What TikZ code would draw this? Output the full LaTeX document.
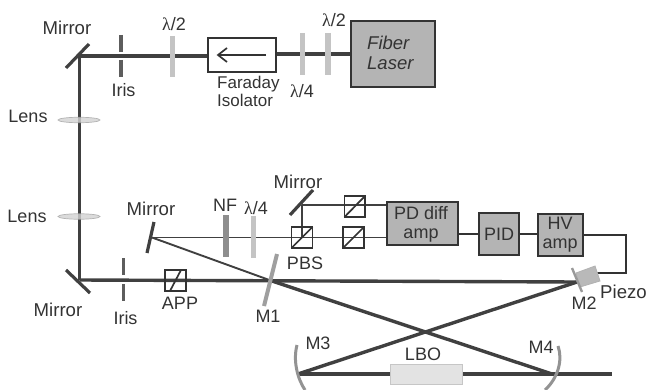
\documentclass[tikz,border=0pt]{standalone}
\usepackage{fontspec}
\usetikzlibrary{shapes.geometric}
\setmainfont{Liberation Sans}
\newfontfamily\lamfont{Liberation Serif}
\newcommand{\lam}[1]{{\lamfont λ}/#1}
\definecolor{ink}{HTML}{333333}
\definecolor{beamc}{HTML}{404040}
\definecolor{boxfill}{HTML}{B4B4B4}
\definecolor{plate}{HTML}{C4C4C4}
\definecolor{darkplate}{HTML}{8E8E8E}
\tikzset{
  lab/.style={text=ink,font=\fontsize{18}{20}\selectfont,inner sep=0pt,align=center},
  biglab/.style={lab,font=\fontsize{18.6}{20}\selectfont},
  smalllab/.style={lab,font=\fontsize{17}{19}\selectfont},
  beam/.style={draw=beamc,line width=3.4pt},
  thinbeam/.style={draw=beamc,line width=1.9pt},
  wire/.style={draw=ink,line width=1.7pt},
  devbox/.style={draw=ink,line width=2pt,fill=boxfill,inner sep=0pt,align=center,text=ink,font=\fontsize{18}{20}\selectfont},
  mirrorline/.style={draw=beamc,line width=3.2pt},
  irisline/.style={draw=beamc!85,line width=3.2pt},
  waveplate/.style={draw=plate,line width=5.5pt},
  notch/.style={draw=darkplate,line width=5.5pt},
  curved/.style={draw=gray!85,line width=3pt},
  cube/.style={draw=ink,line width=1.7pt},
  lensshape/.style={ellipse,draw=gray!70,fill=gray!35,line width=.7pt,minimum width=42pt,minimum height=5.5pt,inner sep=0pt,opacity=.8},
}
\begin{document}
\begin{tikzpicture}[x=1pt,y=-1pt]
\useasboundingbox (0,0) rectangle (647,390);
% junction coordinates
\coordinate (tm) at (79.5,56);
\coordinate (bm) at (79.5,280);
\coordinate (m1p) at (272,281);
\coordinate (m2p) at (577,282);
\coordinate (m3p) at (298,374);
\coordinate (m4p) at (552,374);
\coordinate (exit) at (612,374);
\coordinate (mir2p) at (152,237.5);
\coordinate (mir3p) at (302,205);
\coordinate (fiR) at (276,54);
% boxes
\node[draw=ink,line width=2pt,minimum width=68pt,minimum height=34pt,inner sep=0pt] (fi) at (242,55.5) {};
\node[devbox,minimum width=84pt,minimum height=66pt] (laser) at (392.5,54) {};
\node[text=ink,font=\fontsize{18.5}{20}\selectfont\itshape,inner sep=0pt,anchor=west] (laserA) at (367,43) {Fiber};
\node[text=ink,font=\fontsize{18.5}{20}\selectfont\itshape,inner sep=0pt,anchor=west] (laserB) at (367,63.5) {Laser};
\node[devbox,minimum width=71pt,minimum height=43pt] (pd) at (422.5,223) {};
\node[lab] (pdA) at (421,213) {PD diff};
\node[lab] (pdB) at (421,235.5) {amp};
\node[devbox,minimum width=40pt,minimum height=42pt] (pid) at (499,234) {PID};
\node[devbox,minimum width=45pt,minimum height=42pt] (hv) at (560,235) {};
\node[lab] (hvA) at (560,223.5) {HV};
\node[lab] (hvB) at (560,245.5) {amp};
% beams
\draw[beam] (tm) -- (fi.west |- tm);
\draw[beam] (fi.east |- fiR) -- (laser.west |- fiR);
\draw[beam] (tm) -- (bm);
\draw[beam] (bm) -- (m2p);
\draw[thinbeam] (mir2p) -- (m1p);
\draw[beam] (m1p) -- (m4p);
\draw[beam] (m2p) -- (m3p);
\draw[beam] (m3p) -- (exit);
\node[fill=gray!22,draw=gray!45,line width=.7pt,minimum width=72pt,minimum height=20pt,inner sep=0pt] (lbo) at (426,374) {};
\draw[thinbeam] (mir2p) -- (pd.west |- mir2p);
\draw[thinbeam] (mir3p) -- (mir3p |- mir2p);
\draw[thinbeam] (mir3p) -- (pd.west |- mir3p);
% top mirror, iris, plates
\draw[mirrorline] (66,68) -- (89,44);
\draw[irisline] (121,35) -- (121,52);
\draw[irisline] (121,60) -- (121,77);
\draw[waveplate] (172.5,36) -- (172.5,77);
\draw[waveplate] (302.5,33) -- (302.5,75);
\draw[waveplate] (328,33) -- (328,75);
% isolator arrow
\draw[draw=ink,line width=1.7pt] (266,55) -- (218,55);
\draw[draw=ink,line width=1.7pt] (227,48) -- (218,55) -- (227,62);
% lenses
\node[lensshape] (lens1) at (79,120) {};
\node[lensshape] (lens2) at (79,216.5) {};
% lower optics
\draw[mirrorline] (66,270) -- (90,293);
\draw[irisline] (123.5,258) -- (123.5,275);
\draw[irisline] (123.5,284) -- (123.5,301);
\draw[cube] (165,270) rectangle (186,291);
\draw[cube] (170,291) -- (181,270);
\draw[draw=gray!75,line width=4pt] (277,254) -- (264,306);
\draw[mirrorline] (154,222) -- (147,253);
\draw[notch] (226,215) -- (226,257);
\draw[waveplate] (253.5,216) -- (253.5,258);
\draw[cube] (291.5,227) rectangle (312.5,248);
\draw[cube] (291.5,248) -- (312.5,227);
\draw[mirrorline] (290,215) -- (313,190);
\draw[cube] (344.5,196) rectangle (365,217);
\draw[cube] (344.5,217) -- (365,196);
\draw[cube] (343,227) rectangle (364,248);
\draw[cube] (343,248) -- (364,227);
% wires
\draw[wire] (pd.east |- pid.west) -- (pid.west);
\draw[wire] (pid.east) -- (hv.west |- pid.east);
\coordinate (wa) at (626,235);
\coordinate (wb) at (626,273);
\coordinate (wc) at (597,273);
\draw[wire] (hv.east) -- (wa) -- (wb) -- (wc);
% piezo and M2
\draw[draw=gray!60,fill=gray!55,line width=.8pt] (576,273) -- (595,266) -- (600,281) -- (580,287) -- cycle;
\draw[draw=gray!80,line width=2.4pt] (572,268) -- (582,292);
% curved mirrors
\draw[curved] (297,345) .. controls (293,360) and (297,378) .. (305,390);
\draw[curved] (558,346) .. controls (563,360) and (558,378) .. (545,390);
% labels
\node[biglab] (t1) at (67,28) {Mirror};
\node[lab] (t2) at (174,24) {\lam{2}};
\node[lab] (t3) at (123.5,90) {Iris};
\node[smalllab,align=left,anchor=north west] (t4) at (217,75.5) {Faraday\\[-0.5pt]Isolator};
\node[lab] (t5) at (302,91) {\lam{4}};
\node[lab] (t6) at (334,20) {\lam{2}};
\node[lab] (t7) at (28,116.5) {Lens};
\node[lab] (t8) at (27,216) {Lens};
\node[biglab] (t9) at (151,209) {Mirror};
\node[biglab] (t10) at (298,182) {Mirror};
\node[lab] (t11) at (225,205) {NF};
\node[lab] (t12) at (256,208) {\lam{4}};
\node[lab] (t13) at (305,263) {PBS};
\node[biglab] (t14) at (58,310) {Mirror};
\node[lab] (t15) at (125.5,318) {Iris};
\node[lab] (t16) at (180,303) {APP};
\node[lab] (t17) at (268,316) {M1};
\node[lab] (t18) at (584,303) {M2};
\node[biglab] (t19) at (623.5,292) {Piezo};
\node[lab] (t20) at (318,343) {M3};
\node[lab] (t21) at (541,347) {M4};
\node[lab] (t22) at (423,354) {LBO};
\end{tikzpicture}
\end{document}
